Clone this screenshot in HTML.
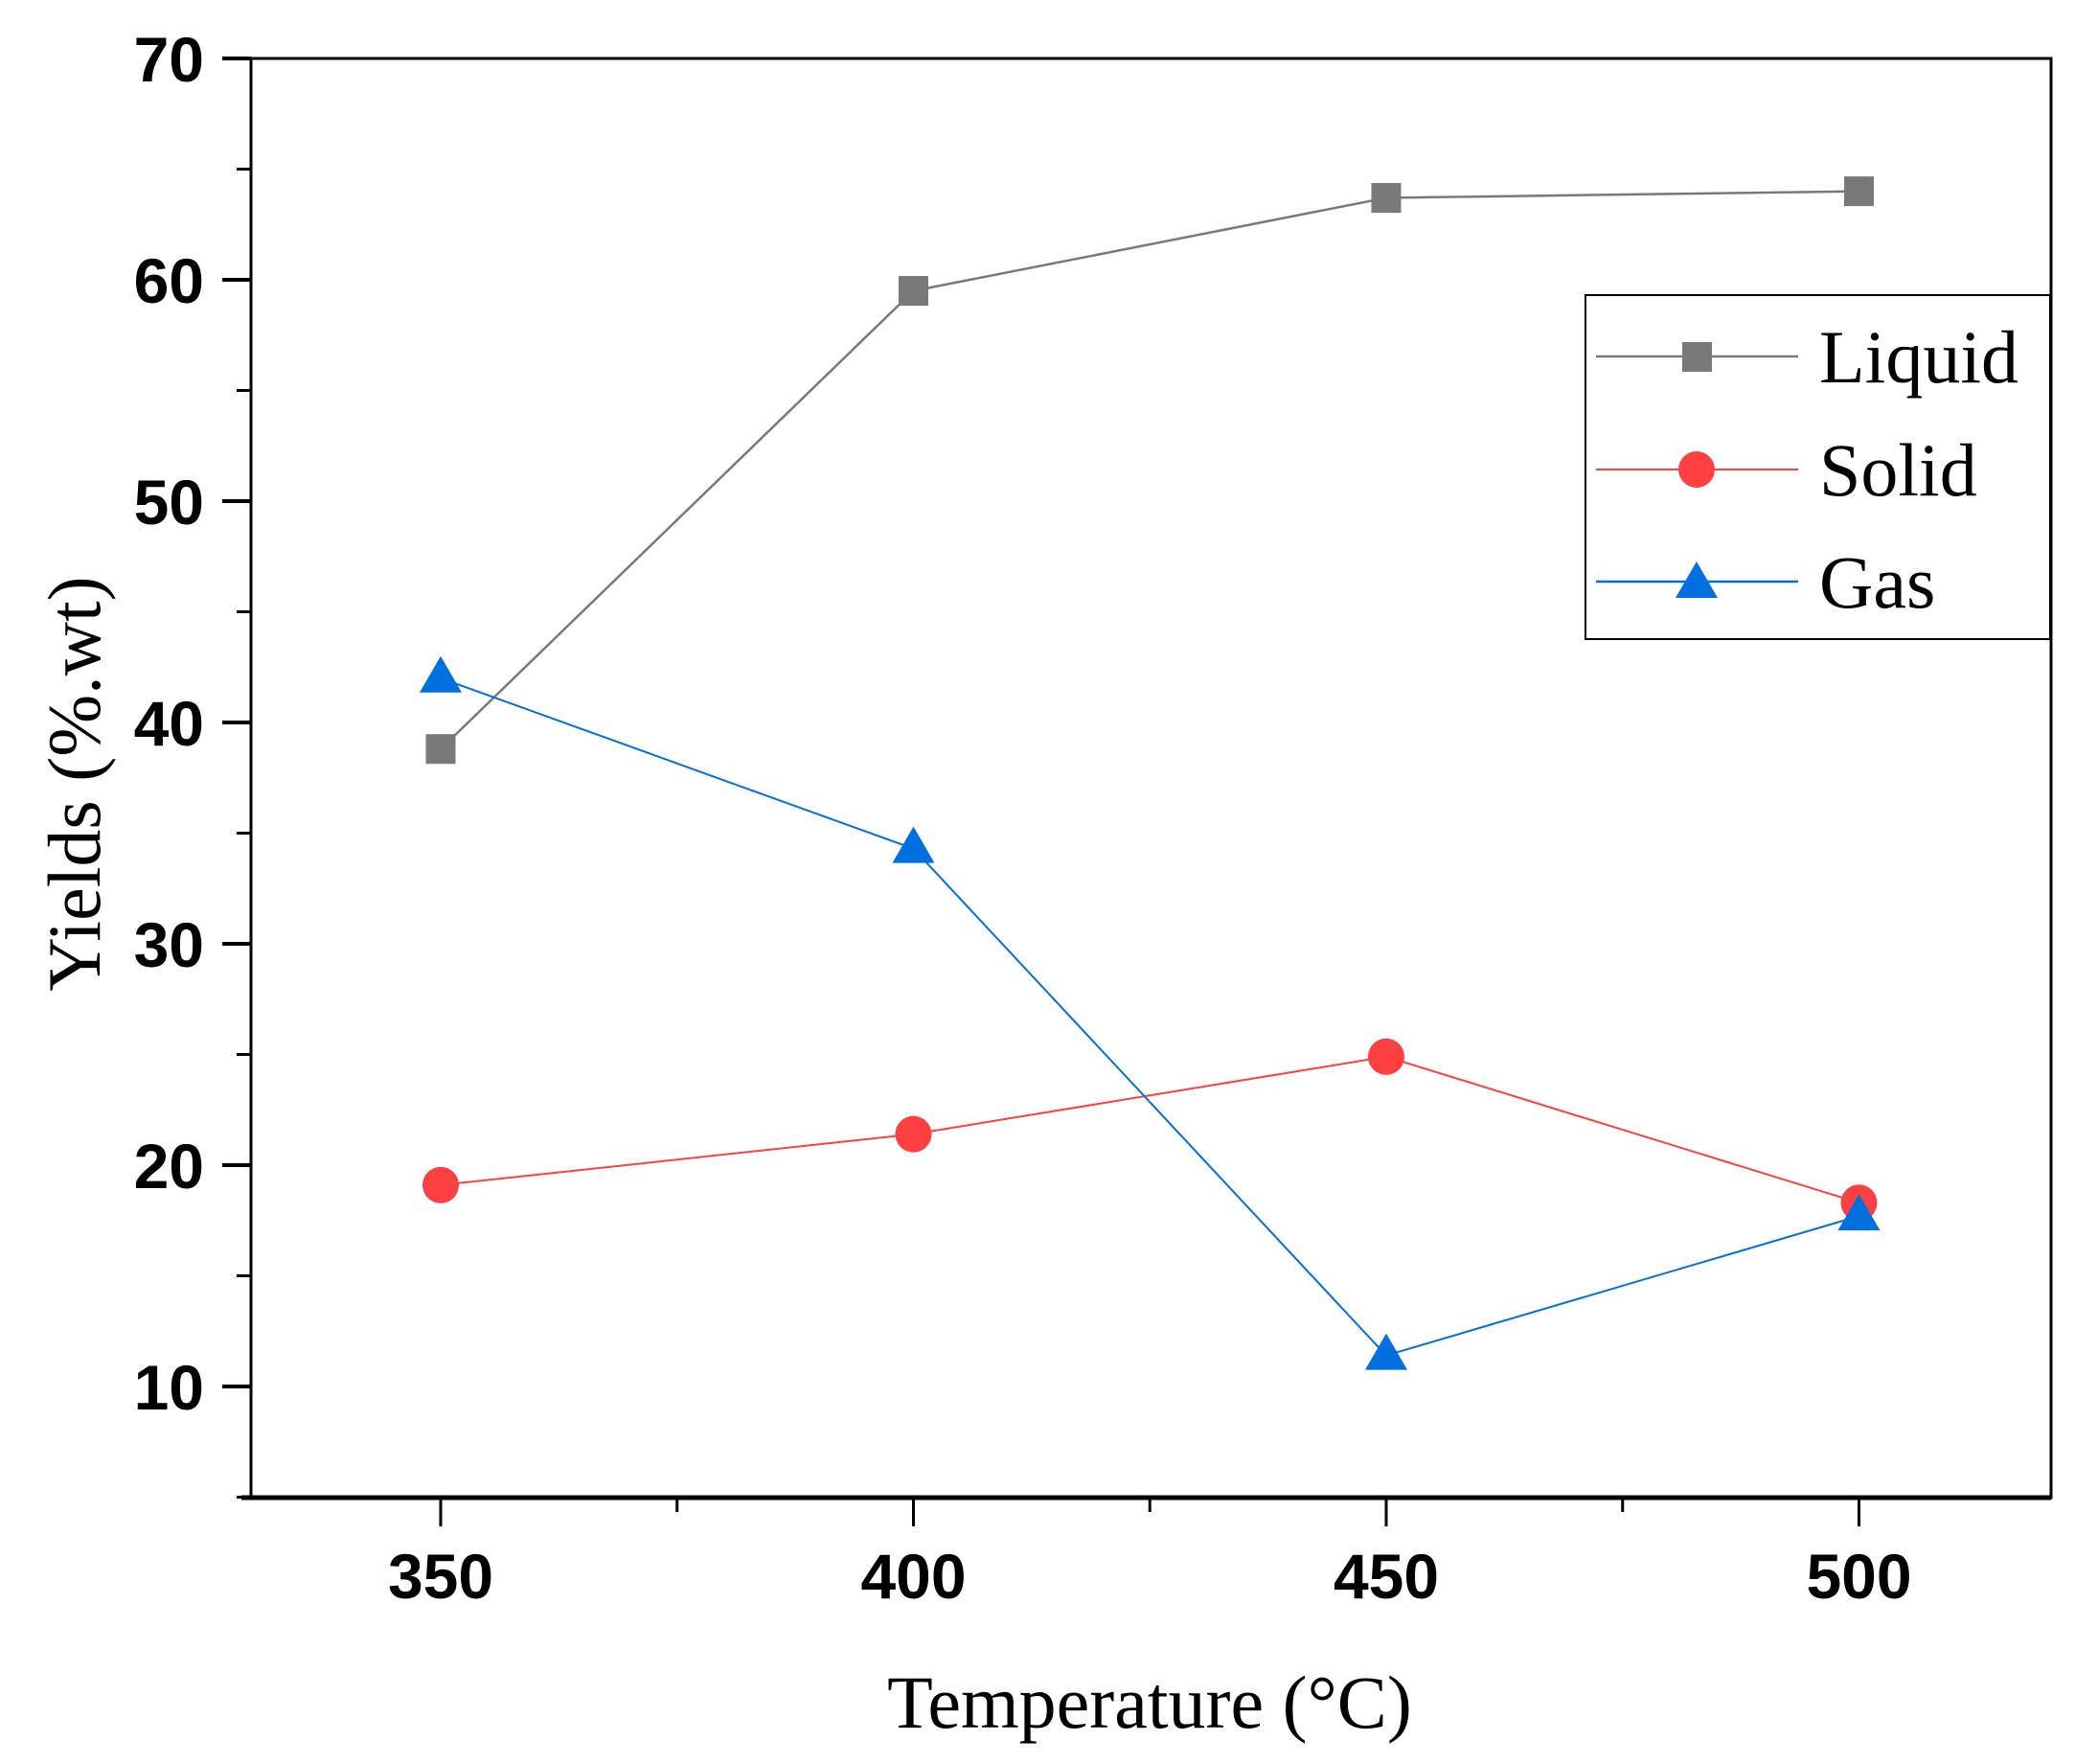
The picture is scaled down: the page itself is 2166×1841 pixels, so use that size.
<!DOCTYPE html>
<html><head><meta charset="utf-8"><style>
html,body{margin:0;padding:0;background:#fff}
svg{display:block}
</style></head><body>
<svg id="chart" width="2166" height="1841" viewBox="0 0 2166 1841" xmlns="http://www.w3.org/2000/svg">
<rect width="2166" height="1841" fill="#fff"/>
<g id="axes"></g>
<g id="series"></g>
<text x="1200" y="1803" font-family="Liberation Serif, serif" font-size="78" text-anchor="middle">Temperature (°C)</text>
<text transform="translate(104,818) rotate(-90)" font-family="Liberation Serif, serif" font-size="78" text-anchor="middle">Yields (%.wt)</text>
<g>
<rect x="1655" y="308" width="485" height="359" fill="#fff" stroke="#000" stroke-width="2"/>
<g>
<line x1="1666" y1="372" x2="1877" y2="372" stroke="#797979" stroke-width="2.5"/>
<rect x="1756" y="357" width="31" height="31" fill="#797979"/>
<text x="1899" y="399" font-family="Liberation Serif, serif" font-size="78">Liquid</text></g>
<g>
<line x1="1666" y1="490" x2="1877" y2="490" stroke="#ff4040" stroke-width="2"/>
<circle cx="1771" cy="490" r="19" fill="#ff4040"/>
<text x="1899" y="517" font-family="Liberation Serif, serif" font-size="78">Solid</text></g>
<g>
<line x1="1666" y1="607" x2="1877" y2="607" stroke="#0070e0" stroke-width="2.5"/>
<polygon points="1771,586 1793,624 1749,624" fill="#0070e0"/>
<text x="1899" y="634" font-family="Liberation Serif, serif" font-size="78">Gas</text></g>
</g>
</svg>
<script>
const temps = [350, 400, 450, 500];
const liquid = [38.8, 59.5, 63.7, 64.0];
const solid = [19.1, 21.4, 24.9, 18.3];
const gas = [42.0, 34.3, 11.4, 17.7];
const yTicks = [10, 20, 30, 40, 50, 60, 70];
const xTicks = [350, 400, 450, 500];

const NS = 'http://www.w3.org/2000/svg';
const L = 262, R = 2141, T = 61, B = 1563;
function X(v){ return 460 + (v - 350) * (493.5 / 50); }
function Y(v){ return T + (70 - v) * 23.1; }
function mk(tag, attrs, parent){
  const e = document.createElementNS(NS, tag);
  for (const k in attrs) e.setAttribute(k, attrs[k]);
  parent.appendChild(e); return e;
}
const ax = document.getElementById('axes');
const frame = mk('rect', {x:L, y:T, width:R-L, height:B-T, fill:'none', stroke:'#000', 'stroke-width':3}, ax);


const bottom = mk('line', {x1:L-10, y1:B, x2:R, y2:B, stroke:'#000', 'stroke-width':5}, ax);


for (let v = 5; v <= 70; v += 5) {
  const major = v % 10 === 0;
  const t = mk('line', {x1:L - (major ? 30 : 15), y1:Y(v), x2:L, y2:Y(v), stroke:'#000', 'stroke-width':major ? 4 : 3}, ax);
  
  
}
yTicks.forEach(v => {
  const t = mk('text', {x:213, y:Y(v) + 24, 'text-anchor':'end', 'font-family':'Liberation Sans, sans-serif', 'font-weight':'bold', 'font-size':66}, ax);
  t.textContent = v;
  
  
});
for (let v = 350; v <= 500; v += 25) {
  const major = v % 50 === 0;
  const t = mk('line', {x1:X(v), y1:B, x2:X(v), y2:B + (major ? 30 : 15), stroke:'#000', 'stroke-width':3}, ax);
  
  
}
xTicks.forEach(v => {
  const t = mk('text', {x:X(v), y:1668, 'text-anchor':'middle', 'font-family':'Liberation Sans, sans-serif', 'font-weight':'bold', 'font-size':66}, ax);
  t.textContent = v;
  
  
});
const sg = document.getElementById('series');
function drawSeries(vals, color, width, marker, name){
  const g = mk('g', {}, sg);
  
  
  const pl = mk('polyline', {points: vals.map((v,i)=>X(temps[i])+','+Y(v)).join(' '), fill:'none', stroke:color, 'stroke-width':width}, g);
  
  
  vals.forEach((v,i) => {
    const cx = X(temps[i]), cy = Y(v);
    let m;
    if (marker === 'square') m = mk('rect', {x:cx-15.5, y:cy-15.5, width:31, height:31, fill:color}, g);
    else if (marker === 'circle') m = mk('circle', {cx:cx, cy:cy, r:19, fill:color}, g);
    else m = mk('polygon', {points:`${cx},${cy-23} ${cx+22},${cy+15} ${cx-22},${cy+15}`, fill:color}, g);
    
    
  });
}
drawSeries(liquid, '#797979', 2.5, 'square', 'liquid');
drawSeries(solid, '#ff4040', 2, 'circle', 'solid');
drawSeries(gas, '#0070e0', 2, 'triangle', 'gas');
</script>
</body></html>
